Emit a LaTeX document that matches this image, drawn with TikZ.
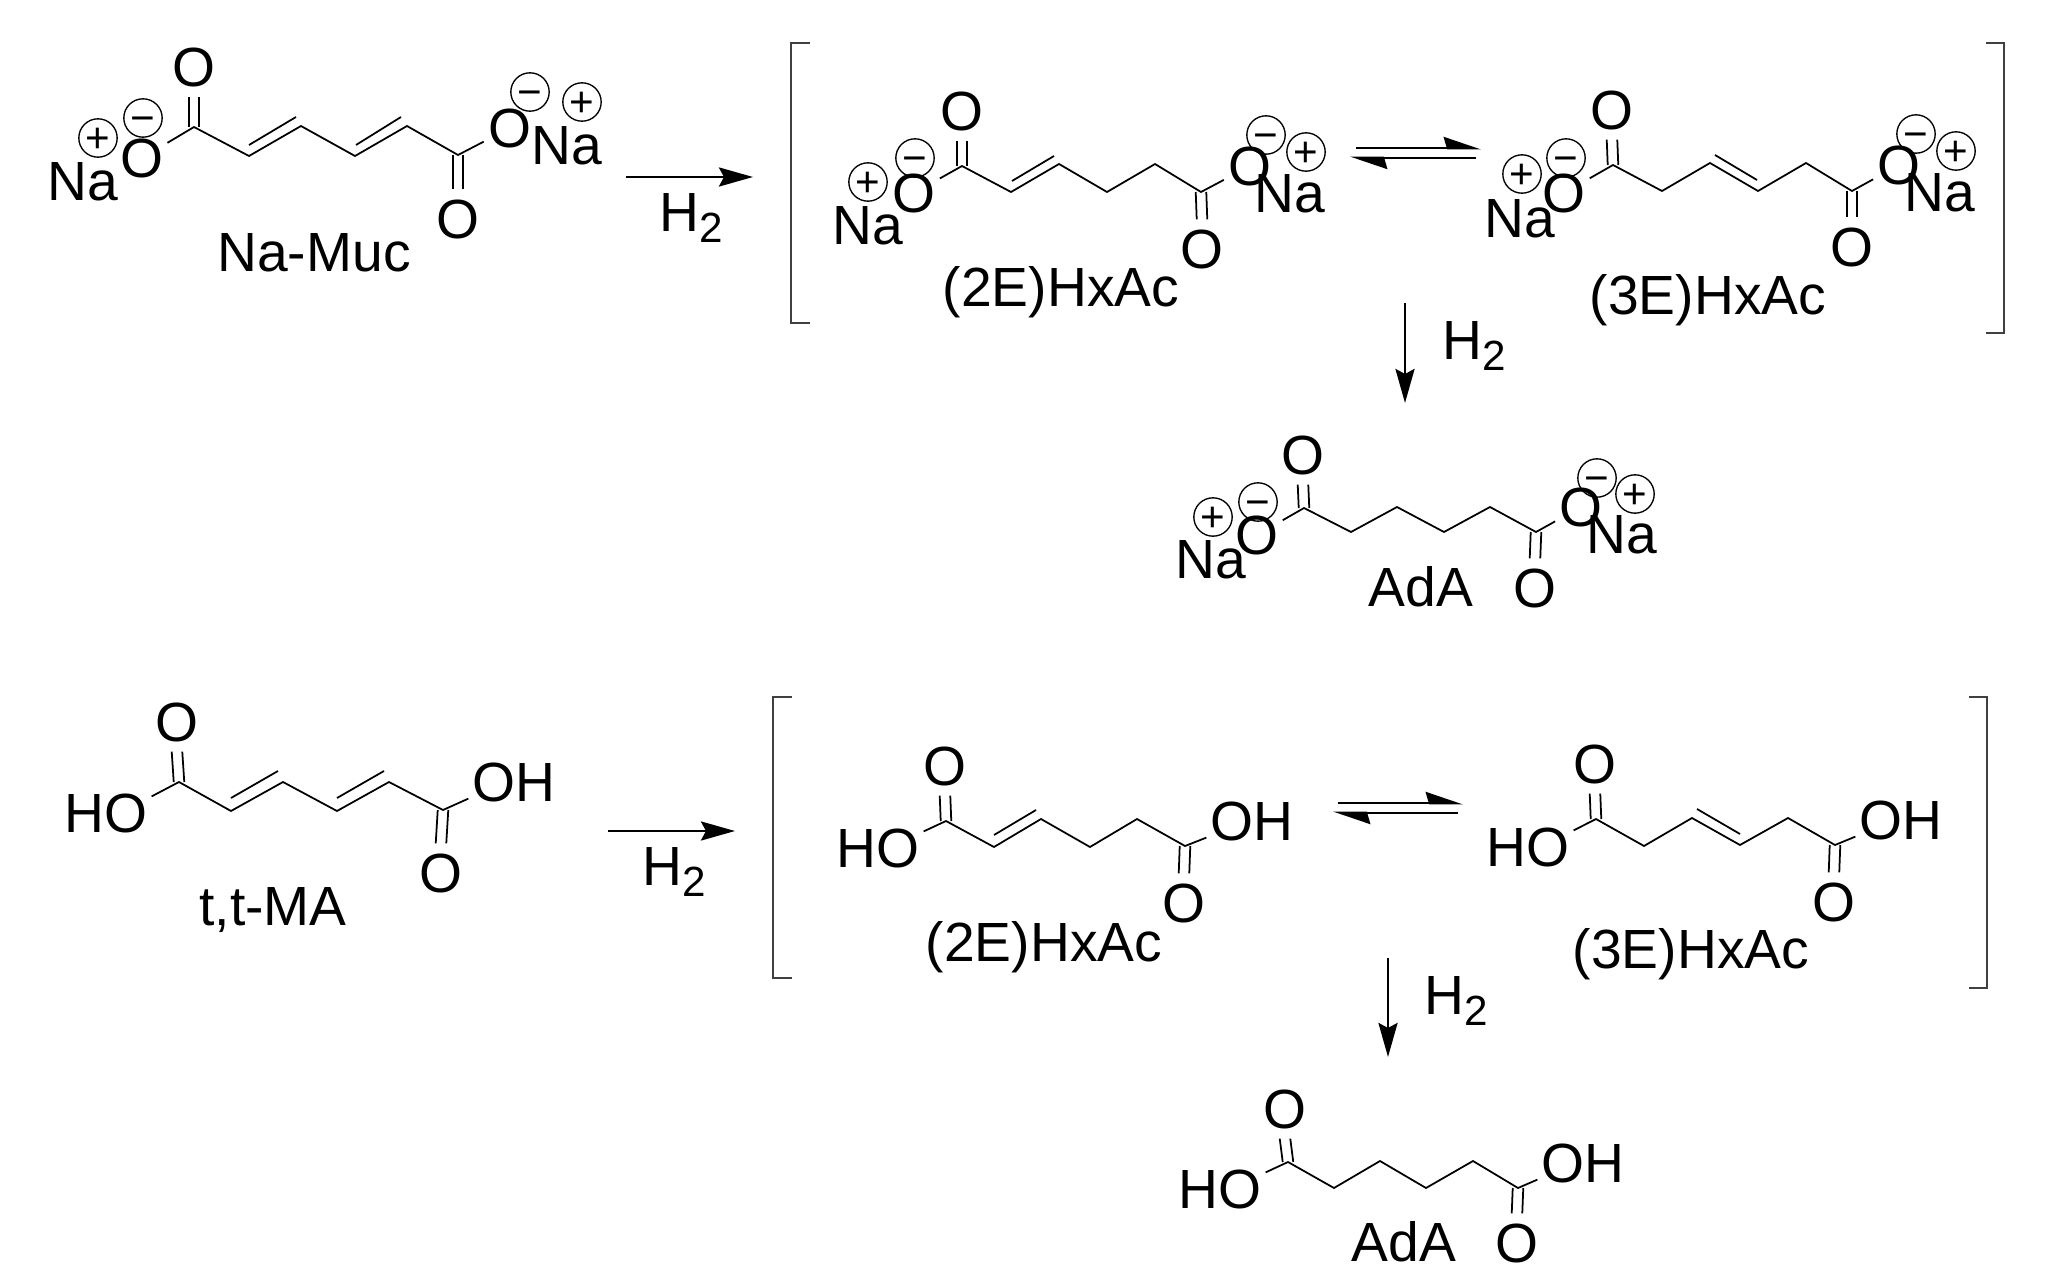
\documentclass[tikz,border=0pt]{standalone}
\usepackage{fontspec}
\setmainfont{Liberation Sans}
\usetikzlibrary{arrows.meta}
\tikzset{
  lab/.style={inner sep=0pt,text height=11pt,text depth=0pt,font=\fontsize{15.7}{18}\selectfont},
  atom/.style={lab,circle,minimum size=5.6mm},
  group/.style={lab,inner xsep=1pt},
  charge/.style={circle,draw,line width=.38pt,minimum size=3.5mm,inner sep=0pt,text height=8.4pt,text depth=0pt,font=\fontsize{12}{12}\selectfont},
  bond/.style={line width=.5pt,line join=miter},
  brack/.style={line width=.7pt,black!75},
  rxn/.style={line width=.8pt,-{Stealth[length=3.4mm,width=1.9mm,inset=.5mm]}},
  eqm/.style={line width=.8pt,-{Stealth[length=3.3mm,width=2.2mm,inset=.3mm,left]}}
}
\newcommand{\carbonyl}[2]{%
  \draw[bond] ([xshift=-1.5pt]#1) -- ([xshift=-1.5pt]#2);
  \draw[bond] ([xshift=1.5pt]#1) -- ([xshift=1.5pt]#2);}
\newcommand{\Hsub}{H\raisebox{-.21em}{\fontsize{12}{12}\selectfont 2}}
\begin{document}
\begin{tikzpicture}[x=0.01cm,y=-0.01cm]
  \useasboundingbox (0,0) rectangle (2066,1288);

  % Na-Muc
  \coordinate (mu1) at (194,127);
  \coordinate (mu2) at (249,156);
  \coordinate (mu3) at (301,126);
  \coordinate (mu4) at (355,156);
  \coordinate (mu5) at (407,126);
  \coordinate (mu6) at (458,155);
  \coordinate (mu2i) at (249,145);
  \coordinate (mu3i) at (296,117);
  \coordinate (mu4i) at (356,145);
  \coordinate (mu5i) at (401,117);
  \node[atom] (muot) at (194,67) {O};
  \node[atom] (muob) at (458,219) {O};
  \node[atom] (muol) at (142,158) {O};
  \node[atom] (muor) at (510,128) {O};
  \node[charge] (mumi) at (143,118) {−};
  \node[charge] (mupl) at (98,138) {+};
  \node[charge] (mumj) at (530,92) {−};
  \node[charge] (mupk) at (582,102) {+};
  \node[lab] (munl) at (83,181) {Na};
  \node[lab] (munr) at (567,145) {Na};
  \node[lab] (mulab) at (314,252) {Na-Muc};
  \draw[bond] (muol) -- (mu1) -- (mu2) -- (mu3) -- (mu4) -- (mu5) -- (mu6) -- (muor);
  \draw[bond] (mu2i) -- (mu3i);
  \draw[bond] (mu4i) -- (mu5i);
  \carbonyl{mu1}{muot.south}
  \carbonyl{mu6}{muob.north}

  % first reaction arrow
  \coordinate (ra1) at (626,177);
  \coordinate (ra2) at (753,177);
  \draw[rxn] (ra1) -- (ra2);
  \node[lab] (rh1) at (691,212) {\Hsub};

  % first bracket
  \coordinate (ba1) at (810,43);
  \coordinate (ba2) at (791,43);
  \coordinate (ba3) at (791,323);
  \coordinate (ba4) at (810,323);
  \coordinate (bb1) at (1986,43);
  \coordinate (bb2) at (2004,43);
  \coordinate (bb3) at (2004,333);
  \coordinate (bb4) at (1986,333);
  \draw[brack] (ba1) -- (ba2) -- (ba3) -- (ba4);
  \draw[brack] (bb1) -- (bb2) -- (bb3) -- (bb4);

  % sodium (2E)
  \coordinate (pa1) at (962,166);
  \coordinate (pa2) at (1011,192);
  \coordinate (pa3) at (1059,164);
  \coordinate (pa4) at (1107,192);
  \coordinate (pa5) at (1155,164);
  \coordinate (pa6) at (1201,192);
  \coordinate (pa2i) at (1012,181);
  \coordinate (pa3i) at (1054,156);
  \node[atom] (paot) at (962,111) {O};
  \node[atom] (paob) at (1202,249) {O};
  \node[atom] (paol) at (914,193) {O};
  \node[atom] (paor) at (1250,166) {O};
  \node[charge] (pami) at (915,158) {−};
  \node[charge] (papl) at (868,182) {+};
  \node[charge] (pamj) at (1266,135) {−};
  \node[charge] (papk) at (1306,152) {+};
  \node[lab] (panl) at (868,225) {Na};
  \node[lab] (panr) at (1290,193) {Na};
  \node[lab] (palab) at (1061,287) {(2E)HxAc};
  \draw[bond] (paol) -- (pa1) -- (pa2) -- (pa3) -- (pa4) -- (pa5) -- (pa6) -- (paor);
  \draw[bond] (pa2i) -- (pa3i);
  \carbonyl{pa1}{paot.south}
  \carbonyl{pa6}{paob.north}

  % first equilibrium
  \coordinate (ea1) at (1356,148);
  \coordinate (ea2) at (1481,148);
  \coordinate (ea3) at (1476,158);
  \coordinate (ea4) at (1350,158);
  \draw[eqm] (ea1) -- (ea2);
  \draw[eqm] (ea3) -- (ea4);

  % sodium (3E)
  \coordinate (pb1) at (1613,165);
  \coordinate (pb2) at (1662,191);
  \coordinate (pb3) at (1710,163);
  \coordinate (pb4) at (1758,191);
  \coordinate (pb5) at (1806,163);
  \coordinate (pb6) at (1852,191);
  \coordinate (pb3i) at (1715,155);
  \coordinate (pb4i) at (1757,180);
  \node[atom] (pbot) at (1612,110) {O};
  \node[atom] (pbob) at (1852,247) {O};
  \node[atom] (pbol) at (1564,193) {O};
  \node[atom] (pbor) at (1899,165) {O};
  \node[charge] (pbmi) at (1566,158) {−};
  \node[charge] (pbpl) at (1522,174) {+};
  \node[charge] (pbmj) at (1916,134) {−};
  \node[charge] (pbpk) at (1956,151) {+};
  \node[lab] (pbnl) at (1520,218) {Na};
  \node[lab] (pbnr) at (1940,192) {Na};
  \node[lab] (pblab) at (1708,295) {(3E)HxAc};
  \draw[bond] (pbol) -- (pb1) -- (pb2) -- (pb3) -- (pb4) -- (pb5) -- (pb6) -- (pbor);
  \draw[bond] (pb3i) -- (pb4i);
  \carbonyl{pb1}{pbot.south}
  \carbonyl{pb6}{pbob.north}

  % first hydrogenation down
  \coordinate (da1) at (1405,303);
  \coordinate (da2) at (1405,403);
  \draw[rxn] (da1) -- (da2);
  \node[lab] (dh1) at (1474,340) {\Hsub};

  % sodium AdA
  \coordinate (ad1) at (1304,508);
  \coordinate (ad2) at (1351,532);
  \coordinate (ad3) at (1397,507);
  \coordinate (ad4) at (1444,532);
  \coordinate (ad5) at (1490,507);
  \coordinate (ad6) at (1536,532);
  \node[atom] (adot) at (1303,455) {O};
  \node[atom] (adob) at (1535,588) {O};
  \node[atom] (adol) at (1257,535) {O};
  \node[atom] (ador) at (1581,507) {O};
  \node[charge] (admi) at (1258,502) {−};
  \node[charge] (adpl) at (1213,517) {+};
  \node[charge] (admj) at (1597,478) {−};
  \node[charge] (adpk) at (1635,494) {+};
  \node[lab] (adnl) at (1211,559) {Na};
  \node[lab] (adnr) at (1622,534) {Na};
  \node[lab] (adlab) at (1421,587) {AdA};
  \draw[bond] (adol) -- (ad1) -- (ad2) -- (ad3) -- (ad4) -- (ad5) -- (ad6) -- (ador);
  \carbonyl{ad1}{adot.south}
  \carbonyl{ad6}{adob.north}

  % t,t-MA
  \coordinate (ma1) at (179,782);
  \coordinate (ma2) at (231,811);
  \coordinate (ma3) at (283,782);
  \coordinate (ma4) at (337,811);
  \coordinate (ma5) at (389,782);
  \coordinate (ma6) at (443,810);
  \coordinate (ma2i) at (231,798);
  \coordinate (ma3i) at (278,771);
  \coordinate (ma4i) at (337,798);
  \coordinate (ma5i) at (384,771);
  \node[atom] (maot) at (177,722) {O};
  \node[atom] (maob) at (441,873) {O};
  \node[group] (maho) at (106,813) {HO};
  \node[group] (maoh) at (514,782) {OH};
  \node[lab] (malab) at (273,906) {t,t-MA};
  \draw[bond] (maho.20) -- (ma1) -- (ma2) -- (ma3) -- (ma4) -- (ma5) -- (ma6) -- (maoh.200);
  \draw[bond] (ma2i) -- (ma3i);
  \draw[bond] (ma4i) -- (ma5i);
  \carbonyl{ma1}{maot.south}
  \carbonyl{ma6}{maob.north}

  % second reaction arrow
  \coordinate (rb1) at (608,831);
  \coordinate (rb2) at (735,831);
  \draw[rxn] (rb1) -- (rb2);
  \node[lab] (rh2) at (674,866) {\Hsub};

  % second bracket
  \coordinate (bc1) at (792,697);
  \coordinate (bc2) at (773,697);
  \coordinate (bc3) at (773,978);
  \coordinate (bc4) at (792,978);
  \coordinate (bd1) at (1969,697);
  \coordinate (bd2) at (1987,697);
  \coordinate (bd3) at (1987,988);
  \coordinate (bd4) at (1969,988);
  \draw[brack] (bc1) -- (bc2) -- (bc3) -- (bc4);
  \draw[brack] (bd1) -- (bd2) -- (bd3) -- (bd4);

  % acid (2E)
  \coordinate (qa1) at (946,821);
  \coordinate (qa2) at (994,847);
  \coordinate (qa3) at (1041,819);
  \coordinate (qa4) at (1090,847);
  \coordinate (qa5) at (1137,819);
  \coordinate (qa6) at (1185,846);
  \coordinate (qa2i) at (994,835);
  \coordinate (qa3i) at (1036,810);
  \node[atom] (qaot) at (945,766) {O};
  \node[atom] (qaob) at (1184,903) {O};
  \node[group] (qaho) at (878,848) {HO};
  \node[group] (qaoh) at (1252,821) {OH};
  \node[lab] (qalab) at (1044,942) {(2E)HxAc};
  \draw[bond] (qaho.20) -- (qa1) -- (qa2) -- (qa3) -- (qa4) -- (qa5) -- (qa6) -- (qaoh.200);
  \draw[bond] (qa2i) -- (qa3i);
  \carbonyl{qa1}{qaot.south}
  \carbonyl{qa6}{qaob.north}

  % second equilibrium
  \coordinate (eb1) at (1338,803);
  \coordinate (eb2) at (1463,803);
  \coordinate (eb3) at (1458,813);
  \coordinate (eb4) at (1333,813);
  \draw[eqm] (eb1) -- (eb2);
  \draw[eqm] (eb3) -- (eb4);

  % acid (3E)
  \coordinate (qb1) at (1596,819);
  \coordinate (qb2) at (1644,846);
  \coordinate (qb3) at (1692,818);
  \coordinate (qb4) at (1740,845);
  \coordinate (qb5) at (1788,818);
  \coordinate (qb6) at (1835,845);
  \coordinate (qb3i) at (1697,809);
  \coordinate (qb4i) at (1740,834);
  \node[atom] (qbot) at (1595,764) {O};
  \node[atom] (qbob) at (1834,902) {O};
  \node[group] (qbho) at (1528,847) {HO};
  \node[group] (qboh) at (1901,820) {OH};
  \node[lab] (qblab) at (1691,949) {(3E)HxAc};
  \draw[bond] (qbho.20) -- (qb1) -- (qb2) -- (qb3) -- (qb4) -- (qb5) -- (qb6) -- (qboh.200);
  \draw[bond] (qb3i) -- (qb4i);
  \carbonyl{qb1}{qbot.south}
  \carbonyl{qb6}{qbob.north}

  % second hydrogenation down
  \coordinate (db1) at (1388,958);
  \coordinate (db2) at (1388,1057);
  \draw[rxn] (db1) -- (db2);
  \node[lab] (dh2) at (1456,995) {\Hsub};

  % acid AdA
  \coordinate (ae1) at (1288,1162);
  \coordinate (ae2) at (1334,1188);
  \coordinate (ae3) at (1380,1161);
  \coordinate (ae4) at (1426,1188);
  \coordinate (ae5) at (1473,1161);
  \coordinate (ae6) at (1518,1188);
  \node[atom] (aeot) at (1285,1109) {O};
  \node[atom] (aeob) at (1517,1243) {O};
  \node[group] (aeho) at (1220,1189) {HO};
  \node[group] (aeoh) at (1583,1163) {OH};
  \node[lab] (aelab) at (1404,1242) {AdA};
  \draw[bond] (aeho.20) -- (ae1) -- (ae2) -- (ae3) -- (ae4) -- (ae5) -- (ae6) -- (aeoh.200);
  \carbonyl{ae1}{aeot.south}
  \carbonyl{ae6}{aeob.north}
\end{tikzpicture}
\end{document}
